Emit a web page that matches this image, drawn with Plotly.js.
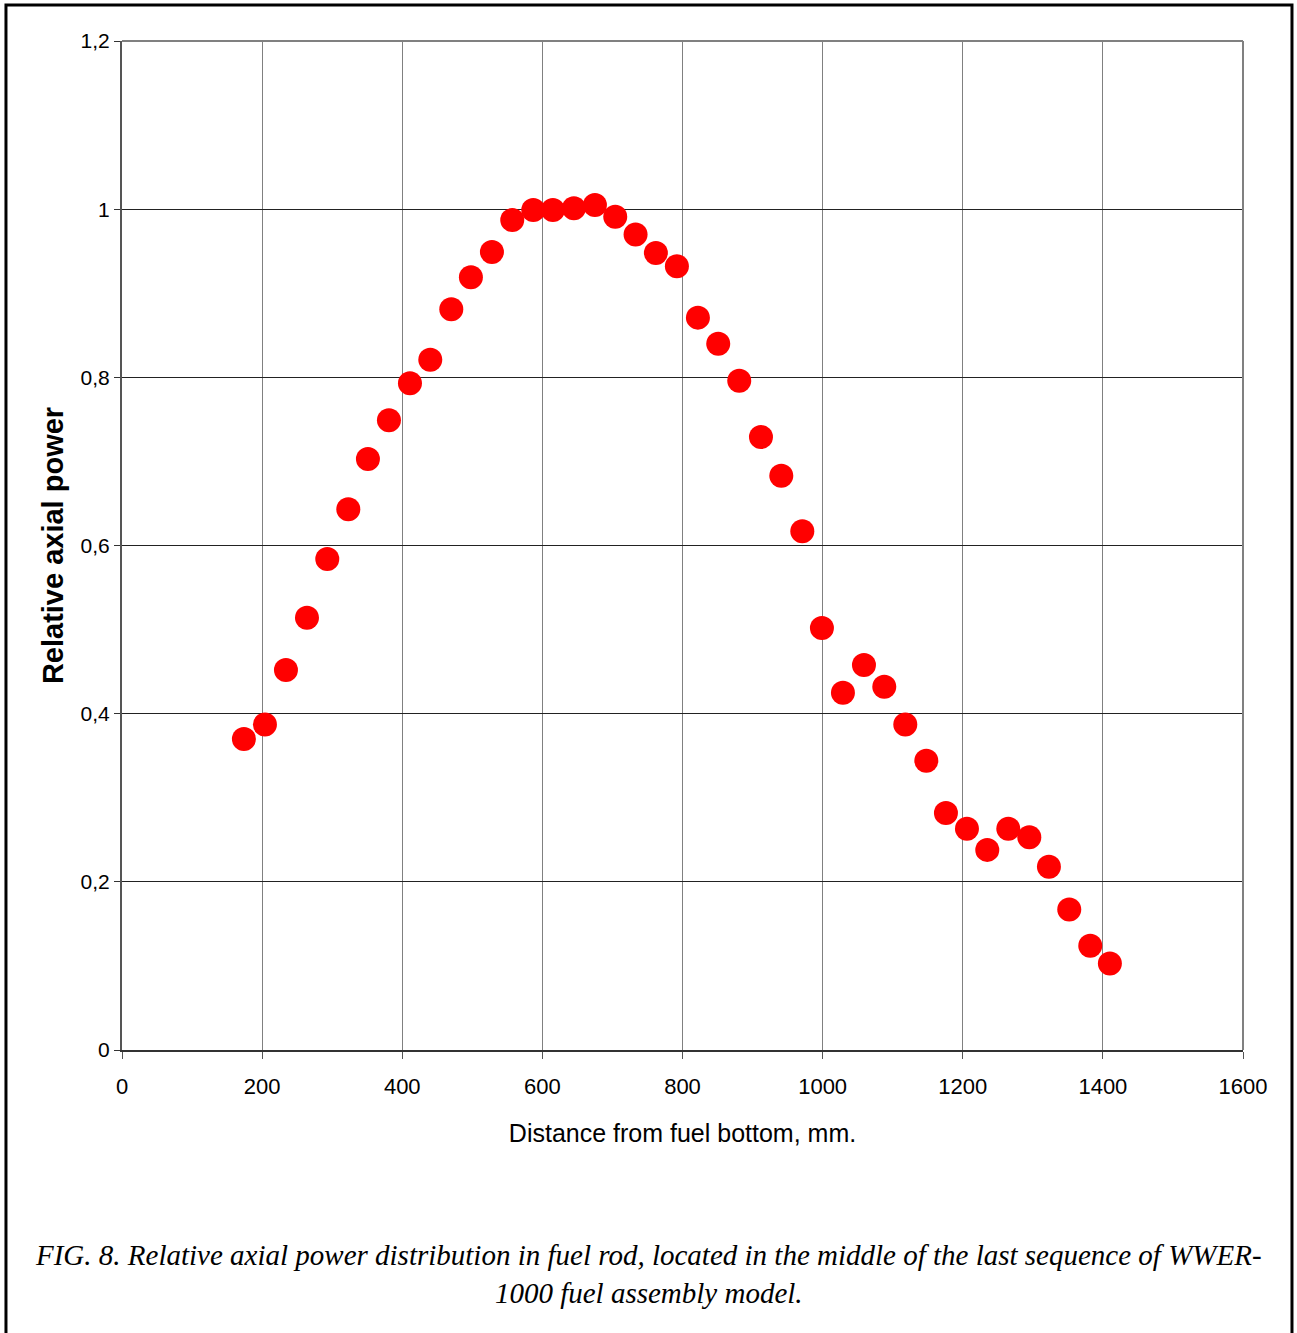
<!DOCTYPE html>
<html><head><meta charset="utf-8">
<script src="https://cdn.plot.ly/plotly-3.0.1.min.js"></script>
<style>html,body{margin:0;padding:0;background:#fff}</style>
</head><body>
<div id="chart" style="width:1297px;height:1333px"></div>
<script>
const distance = [174,204,234,264,293,323,351,381,411,440,470,498,528,557,587,615,645,675,704,733,762,792,822,851,881,912,941,971,999,1029,1059,1088,1118,1148,1176,1206,1235,1265,1295,1323,1352,1382,1410];
const power = [0.370,0.387,0.452,0.514,0.584,0.643,0.703,0.749,0.793,0.821,0.881,0.919,0.949,0.987,0.999,0.999,1.001,1.005,0.991,0.970,0.948,0.932,0.871,0.840,0.796,0.729,0.683,0.617,0.502,0.425,0.458,0.432,0.387,0.344,0.282,0.263,0.238,0.263,0.253,0.218,0.167,0.124,0.103];
const yTickVals = [0,0.2,0.4,0.6,0.8,1,1.2];
const yTickText = ['0','0,2','0,4','0,6','0,8','1','1,2'];
const xTickVals = [0,200,400,600,800,1000,1200,1400,1600];
const caption = 'FIG. 8. Relative axial power distribution in fuel rod, located in the middle of the last sequence of WWER-<br>1000 fuel assembly model.';

const sans = '"Liberation Sans", Arial, sans-serif';

Plotly.newPlot('chart', [{
  x: distance, y: power, type:'scatter', mode:'markers',
  marker:{color:'#ff0000', size:24, line:{width:0}},
  hoverinfo:'x+y'
}], {
  width:1297, height:1333,
  margin:{l:122, r:54, t:41, b:283},
  paper_bgcolor:'#fff', plot_bgcolor:'#fff',
  showlegend:false,
  font:{family:sans, color:'#000'},
  xaxis:{
    range:[0,1600], tickvals:xTickVals, ticktext:xTickVals.map(String),
    showgrid:true, gridcolor:'#808080', gridwidth:1,
    zeroline:false, showline:true, linecolor:'#333', linewidth:2,
    ticks:'outside', ticklen:7, tickcolor:'#555', tickwidth:1,
    ticklabelstandoff:9,
    tickfont:{family:sans, size:22, color:'#000'},
    title:{text:'Distance from fuel bottom, mm.', font:{family:sans, size:25, color:'#000'}, standoff:26}
  },
  yaxis:{
    range:[0,1.2], tickvals:yTickVals, ticktext:yTickText,
    showgrid:true, gridcolor:'#222', gridwidth:1,
    zeroline:false, showline:true, linecolor:'#555', linewidth:2,
    ticks:'outside', ticklen:6, tickcolor:'#333', tickwidth:1,
    tickfont:{family:sans, size:21, color:'#000'},
    title:{text:'<b>Relative axial power</b>', font:{family:sans, size:29, color:'#000'}, standoff:8}
  },
  shapes:[
    {type:'line', xref:'paper', yref:'paper', x0:0, x1:1, y0:1, y1:1, line:{color:'#808080', width:2}},
    {type:'line', xref:'paper', yref:'paper', x0:1, x1:1, y0:0, y1:1, line:{color:'#808080', width:2}},
    {type:'rect', xref:'paper', yref:'paper', x0:-0.1035, x1:1.0437, y0:-0.2825, y1:1.0357, line:{color:'#000', width:3}, fillcolor:'rgba(0,0,0,0)', layer:'above'}
  ],
  annotations:[{
    xref:'paper', yref:'paper', x:0.470, y:-0.222, xanchor:'center', yanchor:'middle',
    text:'<i>'+caption+'</i>', showarrow:false, align:'center',
    font:{family:'"Liberation Serif", "Times New Roman", serif', size:29, color:'#000'}
  }]
}, {displayModeBar:false, staticPlot:true});
</script>
</body></html>
